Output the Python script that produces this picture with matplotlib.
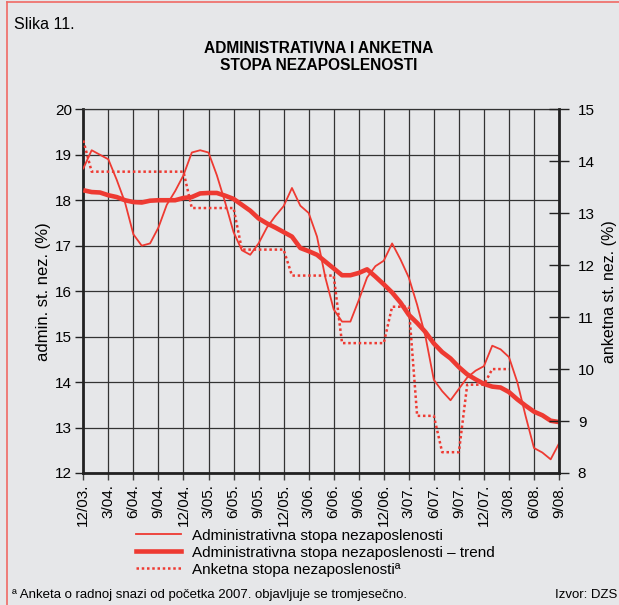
import numpy as np
import matplotlib
matplotlib.use("Agg")
import matplotlib.pyplot as plt
from matplotlib.lines import Line2D

plt.rcParams['font.family'] = ['Liberation Sans', 'DejaVu Sans']

# monthly, 12/2003 .. 9/2008
tick_labels = ['12/03.', '3/04.', '6/04.', '9/04.', '12/04.', '3/05.', '6/05.',
               '9/05.', '12/05.', '3/06.', '6/06.', '9/06.', '12/06.', '3/07.',
               '6/07.', '9/07.', '12/07.', '3/08.', '6/08.', '9/08.']

admin = [18.7, 19.1, 19.0, 18.9, 18.45, 17.95, 17.25, 17.0, 17.05, 17.4,
         17.9, 18.2, 18.55, 19.05, 19.1, 19.05, 18.55, 17.95, 17.3, 16.9,
         16.8, 17.05, 17.4, 17.65, 17.87, 18.27, 17.88, 17.72, 17.2, 16.3,
         15.6, 15.33, 15.33, 15.8, 16.3, 16.55, 16.67, 17.05, 16.7, 16.3,
         15.7, 15.0, 14.05, 13.8, 13.6, 13.85, 14.1, 14.25, 14.35, 14.8,
         14.72, 14.55, 14.0, 13.25, 12.55, 12.45, 12.3, 12.65]

trend = [18.22, 18.18, 18.17, 18.11, 18.07, 18.0, 17.96, 17.95, 17.99, 18.0,
         18.0, 18.0, 18.05, 18.07, 18.15, 18.16, 18.16, 18.1, 18.03, 17.9,
         17.77, 17.6, 17.49, 17.4, 17.3, 17.2, 16.95, 16.88, 16.8, 16.65,
         16.5, 16.35, 16.35, 16.4, 16.48, 16.32, 16.15, 15.97, 15.75, 15.48,
         15.3, 15.1, 14.85, 14.66, 14.52, 14.33, 14.17, 14.06, 13.96, 13.9,
         13.88, 13.78, 13.62, 13.48, 13.35, 13.27, 13.15, 13.12]

# survey rate (right axis), semiannual until 2006, quarterly from 2007
survey = [14.4,
          13.8, 13.8, 13.8, 13.8, 13.8, 13.8, 13.8, 13.8, 13.8, 13.8, 13.8, 13.8,
          13.1, 13.1, 13.1, 13.1, 13.1, 13.1,
          12.3, 12.3, 12.3, 12.3, 12.3, 12.3,
          11.8, 11.8, 11.8, 11.8, 11.8, 11.8,
          10.5, 10.5, 10.5, 10.5, 10.5, 10.5,
          11.2, 11.2, 11.2,
          9.1, 9.1, 9.1,
          8.4, 8.4, 8.4,
          9.7, 9.7, 9.7,
          10.0, 10.0, 10.0]

red = '#ee3a32'
bg = '#e6e7e9'

fig = plt.figure(figsize=(6.19, 6.05), dpi=100, facecolor=bg)
ax = fig.add_axes([0.1346, 0.2182, 0.9031 - 0.1346, 0.8193 - 0.2182])
ax.set_facecolor(bg)

x = np.arange(len(admin))
ax.plot(x, admin, color=red, lw=1.3, zorder=3)
ax.plot(x, trend, color=red, lw=3.3, zorder=4, solid_capstyle='butt')

ax.set_xlim(0, len(admin) - 1)
ax.set_ylim(12, 20)
ax.set_yticks(range(12, 21))
ax.set_xticks(np.arange(0, len(admin), 3))
ax.set_xticklabels(tick_labels, rotation=90, fontsize=11)
ax.tick_params(axis='y', labelsize=11, length=6, width=1, color='#222222', pad=2)
ax.tick_params(axis='x', length=5, width=1, color='#444444', pad=3)
ax.grid(True, color='#333333', lw=0.9, zorder=1)
ax.set_axisbelow(True)
for s in ['left', 'bottom']:
    ax.spines[s].set_linewidth(2)
    ax.spines[s].set_color('#222222')
ax.spines['top'].set_linewidth(0.9)
ax.spines['top'].set_color('#333333')
ax.spines['right'].set_visible(False)
ax.set_ylabel('admin. st. nez. (%)', fontsize=12, labelpad=3)

ax2 = ax.twinx()
ax2.plot(np.arange(len(survey)), survey, color=red, lw=1.8,
         linestyle=(0, (1, 1.1)), zorder=3)
ax2.set_ylim(8, 15)
ax2.set_yticks(range(8, 16))
ax2.tick_params(axis='y', labelsize=11, direction='inout', length=15, width=1,
                color='#222222', pad=6)
ax2.spines['right'].set_linewidth(2)
ax2.spines['right'].set_color('#222222')
for s in ['left', 'top', 'bottom']:
    ax2.spines[s].set_visible(False)
ax2.set_ylabel('anketna st. nez. (%)', fontsize=11.5, labelpad=5)

fig.text(0.023, 0.972, 'Slika 11.', fontsize=11.5, va='top', ha='left')
fig.text(0.515, 0.932, 'ADMINISTRATIVNA I ANKETNA\nSTOPA NEZAPOSLENOSTI',
         fontsize=11.2, fontweight='bold', ha='center', va='top', linespacing=1.15)

handles = [Line2D([], [], color=red, lw=1.3),
           Line2D([], [], color=red, lw=3.3),
           Line2D([], [], color=red, lw=1.8, linestyle=(0, (1, 1.1)))]
labels = ['Administrativna stopa nezaposlenosti',
          'Administrativna stopa nezaposlenosti \u2013 trend',
          'Anketna stopa nezaposlenosti\u00aa']
fig.legend(handles, labels, loc='upper left', bbox_to_anchor=(0.208, 0.139),
           frameon=False, fontsize=11, handlelength=2.9, handletextpad=0.75,
           labelspacing=0.2, borderpad=0)

fig.text(0.02, 0.006, '\u00aa Anketa o radnoj snazi od po\u010detka 2007. objavljuje se tromjese\u010dno.',
         fontsize=9.5, ha='left', va='bottom')
fig.text(0.997, 0.006, 'Izvor: DZS', fontsize=9.5, ha='right', va='bottom')

# red frame on the left and top
fig.add_artist(Line2D([0.011, 0.011], [0, 0.997], color='#f06a64', lw=1.2,
                      transform=fig.transFigure))
fig.add_artist(Line2D([0.011, 1], [0.997, 0.997], color='#f06a64', lw=1.2,
                      transform=fig.transFigure))

fig.savefig('out.png', dpi=100, facecolor=bg)
